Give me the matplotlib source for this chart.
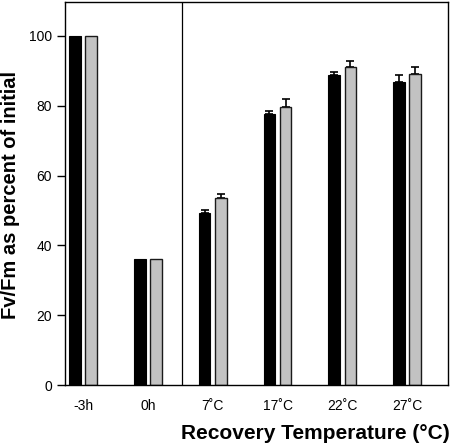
import matplotlib
matplotlib.use("Agg")
import matplotlib.pyplot as plt
import numpy as np

plt.rcParams['font.family'] = ['Liberation Sans', 'DejaVu Sans']

categories = ['-3h', '0h', '7˚C', '17˚C', '22˚C', '27˚C']
black_vals = [100, 36, 49.3, 77.6, 88.8, 86.8]
black_err = [0, 0, 0.8, 0.9, 0.9, 2.0]
gray_vals = [100, 36, 53.6, 79.7, 91.1, 89.2]
gray_err = [0, 0, 1.1, 2.1, 1.8, 2.0]
yticks = [0, 20, 40, 60, 80, 100]

fig = plt.figure(figsize=(4.5, 4.44), dpi=100)
ax = fig.add_axes([65/450, 59/444, 383/450, 383/444])

x = np.arange(len(categories))
w = 0.18
off = 0.125
ax.bar(x - off, black_vals, width=w, color='black', edgecolor='black', linewidth=0.8, zorder=2)
ax.bar(x + off, gray_vals, width=w, color='#c2c2c2', edgecolor='#1a1a1a', linewidth=1.0, zorder=2)
mask = np.array(black_err) > 0
ax.errorbar((x - off)[mask], np.array(black_vals)[mask], yerr=[np.zeros(mask.sum()), np.array(black_err)[mask]],
            fmt='none', ecolor='black', elinewidth=1.2, capsize=3, capthick=1.2, zorder=1)
ax.errorbar((x + off)[mask], np.array(gray_vals)[mask], yerr=[np.zeros(mask.sum()), np.array(gray_err)[mask]],
            fmt='none', ecolor='black', elinewidth=1.2, capsize=3, capthick=1.2, zorder=1)

ax.axvline(1.52, color='black', linewidth=0.9)

ax.set_xlim(-0.28, 5.63)
ax.set_ylim(0, 109.7)
ax.set_yticks(yticks)
ax.set_yticklabels([str(t) for t in yticks], fontsize=10)
ax.set_xticks(x)
ax.set_xticklabels(categories, fontsize=10)
ax.tick_params(axis='x', length=0, pad=10)
ax.tick_params(axis='y', length=6, width=1, direction='out')
for s in ax.spines.values():
    s.set_linewidth(1.0)

fig.text(11/450, (444 - 195)/444, 'Fv/Fm as percent of initial', fontsize=14.5, fontweight='bold',
         rotation=90, ha='center', va='center')
fig.text(315/450, (444 - 433)/444, 'Recovery Temperature (°C)', fontsize=15, fontweight='bold',
         ha='center', va='center')

fig.savefig('out.png', dpi=100)
